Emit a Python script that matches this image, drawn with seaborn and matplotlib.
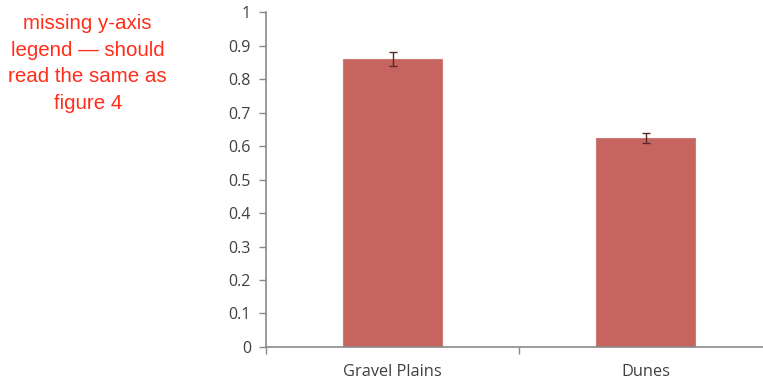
import matplotlib
matplotlib.use("Agg")
import matplotlib.pyplot as plt
import seaborn as sns
import pandas as pd
import numpy as np

habitats = ["Gravel Plains", "Dunes"]
means = [0.86, 0.625]
errors = [0.02, 0.015]
y_ticks = [0, 0.1, 0.2, 0.3, 0.4, 0.5, 0.6, 0.7, 0.8, 0.9, 1]
y_tick_labels = ["0", "0.1", "0.2", "0.3", "0.4", "0.5", "0.6", "0.7", "0.8", "0.9", "1"]
note_text = "missing y-axis\nlegend \u2014 should\nread the same as\nfigure 4"

sns.set_style("white")
plt.rcParams["font.family"] = ["Open Sans", "DejaVu Sans"]

df = pd.DataFrame({"habitat": habitats, "mean": means})

fig = plt.figure(figsize=(7.63, 3.80), dpi=100)
# the category axis runs slightly past the right edge of the canvas
ax = fig.add_axes([0.349, 0.087, 0.663, 0.881])

sns.barplot(data=df, x="habitat", y="mean", ax=ax, color="#C6645F",
            width=0.39, saturation=1, edgecolor="#D07A75", linewidth=0.8)
ax.errorbar(np.arange(len(habitats)), means, yerr=errors, fmt="none",
            ecolor="#5a2a28", elinewidth=1.0, capsize=3, capthick=1.0)

ax.set_xlim(-0.5, 1.5)
ax.set_ylim(0, 1)
ax.set_yticks(y_ticks)
ax.set_yticklabels(y_tick_labels)
ax.set_xlabel("")
ax.set_ylabel("")

axis_grey = "#8a8a8a"
for side in ["top", "right"]:
    ax.spines[side].set_visible(False)
ax.spines["left"].set_color(axis_grey)
ax.spines["bottom"].set_color(axis_grey)
ax.spines["left"].set_linewidth(1.2)
ax.spines["bottom"].set_linewidth(1.2)

ax.tick_params(axis="y", which="major", direction="out", length=5, width=1.0,
               color=axis_grey, labelsize=11.5, labelcolor="#404040", pad=6, left=True)
ax.tick_params(axis="x", which="major", length=0, labelsize=11.8,
               labelcolor="#404040", pad=12, bottom=True)
ax.set_xticks([-0.5, 0.5, 1.5], minor=True)
ax.tick_params(axis="x", which="minor", direction="out", length=5, width=1.0,
               color=axis_grey, bottom=True)

fig.text(0.115, 0.962, note_text, ha="center", va="top", color="#FF2D1A",
         fontsize=14.8, family=["Liberation Sans", "DejaVu Sans"], linespacing=1.5)

fig.savefig("out.png", dpi=100)
